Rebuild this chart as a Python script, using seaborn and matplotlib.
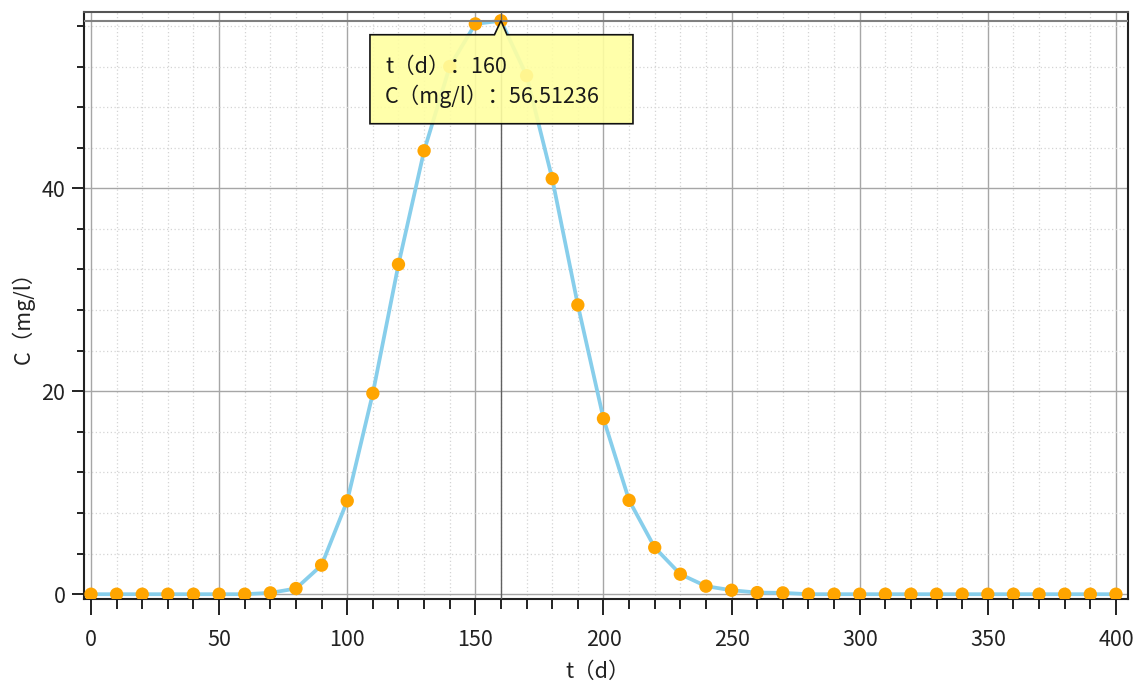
import matplotlib
matplotlib.use('Agg')
import matplotlib.pyplot as plt
import matplotlib.transforms as mtransforms
from matplotlib.patches import Polygon
from matplotlib.ticker import MultipleLocator
import seaborn as sns
import pandas as pd

sns.set_theme(style='white')
plt.rcParams['font.family'] = ['Noto Sans CJK SC', 'DejaVu Sans']

# concentration readings, one every 10 days
t_days = [0, 10, 20, 30, 40, 50, 60, 70, 80, 90,
          100, 110, 120, 130, 140, 150, 160, 170, 180, 190,
          200, 210, 220, 230, 240, 250, 260, 270, 280, 290,
          300, 310, 320, 330, 340, 350, 360, 370, 380, 390, 400]
conc = [0, 0, 0, 0, 0, 0, 0, 0.13, 0.56, 2.86,
        9.2, 19.8, 32.5, 43.7, 52.0, 56.2, 56.51236, 51.1, 40.95, 28.5,
        17.3, 9.25, 4.6, 1.97, 0.79, 0.39, 0.16, 0.13, 0, 0,
        0, 0, 0, 0, 0, 0, 0, 0, 0, 0, 0]
x_label = 't（d）'
y_label = 'C（mg/l）'
hover_idx = 16

df = pd.DataFrame({'t': t_days, 'C': conc})

fig = plt.figure(figsize=(11.38, 6.82), dpi=100)
ax = fig.add_axes([0.0741, 0.1213, 0.9171, 0.8615])

sns.lineplot(data=df, x='t', y='C', color='#87ceeb', linewidth=2.7, ax=ax, zorder=2)
sns.scatterplot(data=df, x='t', y='C', color='#ffa500', s=92, edgecolor='none',
                ax=ax, zorder=3)

ax.set_xlim(-2.6, 404.7)
ax.set_ylim(-0.5, 57.4)
ax.xaxis.set_major_locator(MultipleLocator(50))
ax.xaxis.set_minor_locator(MultipleLocator(10))
ax.yaxis.set_major_locator(MultipleLocator(20))
ax.yaxis.set_minor_locator(MultipleLocator(4))

ax.grid(which='major', color='#a6a6a6', linewidth=1.0, linestyle='-')
ax.grid(which='minor', color='#d4d4d4', linewidth=0.9, linestyle=(0, (1, 2)))
ax.set_axisbelow(True)

for side in ['left', 'bottom', 'right']:
    ax.spines[side].set_color('#222222')
    ax.spines[side].set_linewidth(1.5)
ax.spines['top'].set_color('#555555')
ax.spines['top'].set_linewidth(1.5)

ax.tick_params(axis='both', which='both', direction='out', color='#222222',
               width=1.4, labelsize=15.5, labelcolor='#222222')
ax.tick_params(axis='x', which='major', length=11.5, pad=10)
ax.tick_params(axis='x', which='minor', length=7)
ax.tick_params(axis='y', which='major', length=8.6, pad=5)
ax.tick_params(axis='y', which='minor', length=5)
ax.tick_params(bottom=True, left=True, which='both')

ax.set_xlabel(x_label, fontsize=15.5, color='#222222')
ax.set_ylabel(y_label, fontsize=15.5, color='#222222')
ax.xaxis.label.set_va('center')
ax.yaxis.label.set_va('center')
ax.xaxis.set_label_coords(0.492, -0.124)
ax.yaxis.set_label_coords(-0.0587, 0.489)

# crosshair at hovered point
hx, hy = t_days[hover_idx], conc[hover_idx]
ax.axvline(hx, color='#606060', linewidth=1.0, zorder=4)
ax.axhline(hy, color='#808080', linewidth=1.5, zorder=4)

# tooltip callout, offsets in inches from the hovered point
trans = fig.dpi_scale_trans + mtransforms.ScaledTranslation(hx, hy, ax.transData)
verts = [(-1.31, -0.14), (-0.065, -0.14), (0, 0), (0.06, -0.14),
         (1.32, -0.14), (1.32, -1.03), (-1.31, -1.03)]
ax.add_patch(Polygon(verts, closed=True, transform=trans, facecolor=(1, 1, 0.63, 0.9),
                     edgecolor='#111111', linewidth=1.2, zorder=6, clip_on=False))
ax.annotate(f'{x_label}：{hx}', xy=(hx, hy), xytext=(-116, -46),
            textcoords='offset pixels', ha='left', va='center', fontsize=15.5,
            fontweight='medium', color='#1a1a1a', zorder=7)
ax.annotate(f'{y_label}：{hy}', xy=(hx, hy), xytext=(-116, -76),
            textcoords='offset pixels', ha='left', va='center', fontsize=15.5,
            fontweight='medium', color='#1a1a1a', zorder=7)

fig.savefig('out.png', dpi=100)
